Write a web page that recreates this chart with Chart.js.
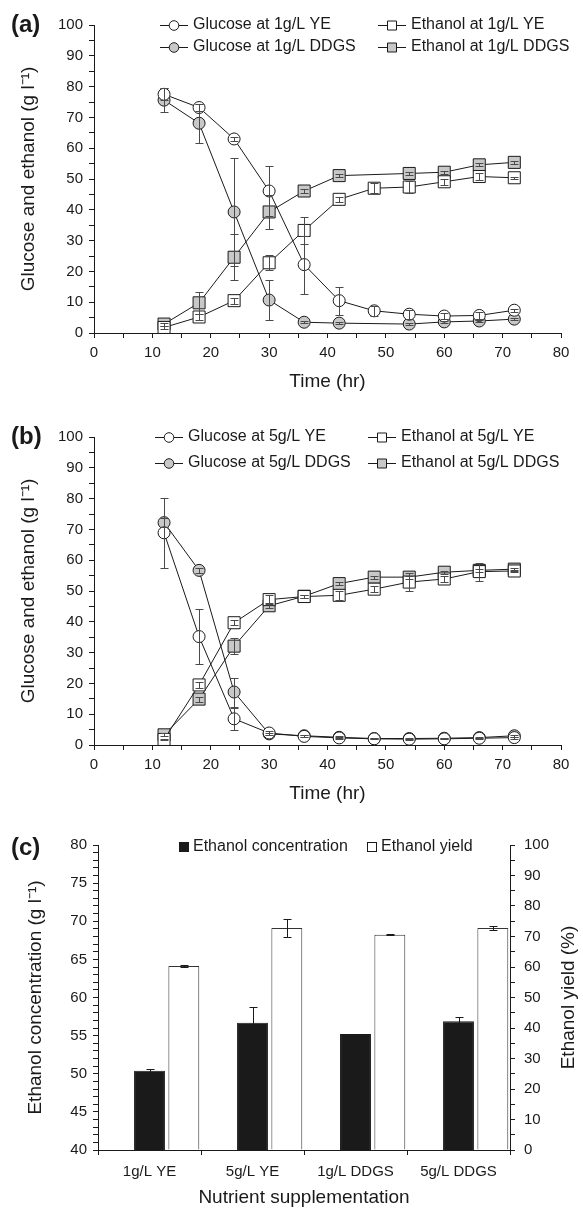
<!DOCTYPE html>
<html>
<head>
<meta charset="utf-8">
<title>Glucose and ethanol time courses</title>
<script src="https://cdn.jsdelivr.net/npm/chart.js@4.4.1/dist/chart.umd.min.js"></script>
<style>
  body { margin: 0; background: #fff; }
  #page { position: relative; width: 583px; height: 1209px; font-family: "Liberation Sans", Arial, sans-serif; color: #1a1a1a; }
  canvas { position: absolute; left: 0; }
  .tag { position: absolute; left: 11px; font-size: 24px; font-weight: bold; line-height: 1; }
</style>
</head>
<body>
<div id="page">
  <canvas id="chart-a" width="583" height="400" style="top:0"></canvas>
  <canvas id="chart-b" width="583" height="400" style="top:412px"></canvas>
  <canvas id="chart-c" width="583" height="389" style="top:820px"></canvas>
  <div class="tag" style="top:12px">(a)</div>
  <div class="tag" style="top:424px">(b)</div>
  <div class="tag" style="top:835px">(c)</div>
</div>
<script>
// sampling times (hr)
const hours = [12, 18, 24, 30, 36, 42, 48, 54, 60, 66, 72];

// (a) 1 g/L supplementation
const glucoseYE1 = [77.5, 73.2, 63.0, 46.1, 22.2, 10.5, 7.2, 6.1, 5.5, 5.7, 7.4];
const glucoseYE1Err = [2.0, 1.0, 0.6, 8.0, 9.4, 4.5, 1.6, 1.5, 1.0, 1.0, 0.5];
const glucoseDDGS1 = [75.6, 68.1, 39.3, 10.7, 3.5, 3.2, null, 2.9, 3.6, 3.9, 4.5];
const glucoseDDGS1Err = [4.0, 6.3, 17.6, 6.4, 0.3, 0.3, null, 0.3, 0.3, 0.4, 0.4];
const ethanolYE1 = [1.8, 5.2, 10.5, 22.8, 33.3, 43.4, 47.0, 47.4, 49.1, 50.8, 50.4];
const ethanolYE1Err = [0.5, 1.0, 1.0, 2.5, 4.4, 0.8, 1.6, 1.8, 1.0, 1.0, 0.4];
const ethanolDDGS1 = [2.9, 9.8, 24.6, 39.3, 46.1, 51.1, null, 51.8, 52.2, 54.6, 55.4];
const ethanolDDGS1Err = [0.5, 3.6, 7.5, 5.4, 0.5, 0.5, null, 0.5, 0.5, 0.5, 0.5];

// (b) 5 g/L supplementation
const glucoseYE5 = [68.9, 35.2, 8.5, 3.9, 2.8, 2.3, 2.0, 1.9, 2.0, 2.2, 2.4];
const glucoseYE5Err = [11.3, 8.8, 3.5, 0.5, 0.3, 0.3, 0.2, 0.2, 0.2, 0.2, 0.3];
const glucoseDDGS5 = [72.2, 56.7, 17.2, 3.6, 3.0, 2.5, 2.1, 2.1, 2.2, 2.4, 3.0];
const glucoseDDGS5Err = [1.5, 0.8, 4.7, 0.4, 0.3, 0.3, 0.2, 0.2, 0.2, 0.2, 0.3];
const ethanolYE5 = [1.8, 19.5, 39.7, 47.2, 48.2, 48.6, 50.6, 52.9, 53.9, 56.3, 56.5];
const ethanolYE5Err = [0.3, 1.0, 0.8, 1.5, 0.5, 1.5, 1.0, 2.8, 1.0, 2.9, 0.3];
const ethanolDDGS5 = [3.3, 14.9, 32.1, 45.2, 48.3, 52.4, 54.5, 54.5, 56.1, 56.7, 57.1];
const ethanolDDGS5Err = [0.5, 0.8, 2.6, 0.8, 0.5, 0.5, 0.5, 0.5, 0.5, 0.5, 0.5];

// (c) end-point comparison
const supplements = ['1g/L YE', '5g/L YE', '1g/L DDGS', '5g/L DDGS'];
const concentration = [50.4, 56.7, 55.2, 56.9];
const concentrationErr = [0.2, 2.0, 0.05, 0.6];
const ethanolYield = [60.3, 72.8, 70.6, 72.8];
const ethanolYieldErr = [0.3, 2.8, 0.1, 0.8];

const FONT = '"Liberation Sans", Arial, sans-serif';
const INK = '#1a1a1a';
const GREY = '#c8c8c8';
const TICK = 15, TITLE = 19, KEY = 16;

Chart.defaults.font.family = FONT;
Chart.defaults.color = INK;

// vertical error bars with caps, drawn over the marks
const errorBars = {
  id: 'errorBars',
  afterDatasetsDraw(chart, args, opts) {
    const ctx = chart.ctx;
    ctx.save();
    ctx.lineWidth = 1;
    chart.data.datasets.forEach((ds, i) => {
      if (!ds.errors) return;
      const meta = chart.getDatasetMeta(i);
      const yScale = chart.scales[meta.yAxisID];
      ctx.strokeStyle = ds.errorColor || opts.color;
      meta.data.forEach((el, j) => {
        const err = ds.errors[j];
        const v = meta.controller.getParsed(j).y;
        if (err == null || !Number.isFinite(v)) return;
        const x = Math.round(el.x) + 0.5;
        const top = Math.round(yScale.getPixelForValue(v + err)) + 0.5;
        const bot = Math.round(yScale.getPixelForValue(v - err)) + 0.5;
        const c = opts.cap;
        ctx.beginPath();
        ctx.moveTo(x, top); ctx.lineTo(x, bot);
        ctx.moveTo(x - c, top); ctx.lineTo(x + c, top);
        ctx.moveTo(x - c, bot); ctx.lineTo(x + c, bot);
        ctx.stroke();
      });
    });
    ctx.restore();
  }
};

// legend placed inside the plot, one slot per dataset
const keyBox = {
  id: 'keyBox',
  afterDraw(chart, args, opts) {
    if (!opts.slots) return;
    const ctx = chart.ctx;
    ctx.save();
    ctx.font = KEY + 'px ' + FONT;
    ctx.textBaseline = 'middle';
    ctx.lineWidth = 1;
    ctx.strokeStyle = INK;
    opts.slots.forEach((slot, i) => {
      if (!slot) return;
      const ds = chart.data.datasets[i];
      const [x, y] = slot;
      if (opts.swatch) {
        ctx.fillStyle = ds.backgroundColor;
        ctx.fillRect(x, y - 5, 10, 10);
        ctx.strokeRect(x + 0.5, y - 4.5, 9, 9);
        ctx.fillStyle = INK;
        ctx.fillText(ds.label, x + 14, y);
        return;
      }
      ctx.beginPath(); ctx.moveTo(x, y + 0.5); ctx.lineTo(x + 28, y + 0.5); ctx.stroke();
      ctx.fillStyle = ds.pointBackgroundColor;
      ctx.beginPath();
      if (ds.pointStyle === 'rect') ctx.rect(x + 9.5, y - 4, 9, 9);
      else ctx.arc(x + 14, y + 0.5, 4.8, 0, Math.PI * 2);
      ctx.fill(); ctx.stroke();
      ctx.fillStyle = INK;
      ctx.fillText(ds.label, x + opts.gap, y);
    });
    ctx.restore();
  }
};

// right-hand axis title reading bottom to top
const sideTitle = {
  id: 'sideTitle',
  afterDraw(chart, args, opts) {
    if (!opts.text) return;
    const { ctx, chartArea } = chart;
    ctx.save();
    ctx.translate(opts.x, (chartArea.top + chartArea.bottom) / 2);
    ctx.rotate(-Math.PI / 2);
    ctx.font = TITLE + 'px ' + FONT;
    ctx.fillStyle = INK;
    ctx.textAlign = 'center';
    ctx.textBaseline = 'middle';
    ctx.fillText(opts.text, 0, 0);
    ctx.restore();
  }
};

function pts(ys) { return hours.map((h, i) => ({ x: h, y: ys[i] })); }

function lineSet(label, ys, errs, shape, fill) {
  return {
    label, data: pts(ys), errors: errs,
    pointStyle: shape, pointRadius: shape === 'rect' ? 8.5 : 6, pointHoverRadius: shape === 'rect' ? 8.5 : 6,
    pointBackgroundColor: fill, pointBorderColor: INK, pointBorderWidth: 1,
    borderColor: INK, borderWidth: 1, backgroundColor: fill, spanGaps: true, fill: false
  };
}

const axisGrid = { drawOnChartArea: false, tickLength: 5, color: INK, lineWidth: 1 };
const axisBorder = { color: INK, width: 1 };

function timeCourse(id, sets, slots) {
  return new Chart(document.getElementById(id), {
    type: 'line',
    data: { datasets: sets },
    plugins: [errorBars, keyBox],
    options: {
      responsive: false, animation: false, devicePixelRatio: 1,
      layout: { padding: { top: 25, right: 22, left: 0, bottom: 0 } },
      plugins: {
        legend: { display: false }, tooltip: { enabled: false },
        errorBars: { color: '#4a4a4a', cap: 4 },
        keyBox: { slots: slots, gap: 33 }
      },
      scales: {
        x: {
          type: 'linear', min: 0, max: 80,
          afterFit: s => { s.height = 67; },
          ticks: { stepSize: 5, autoSkip: false, maxRotation: 0, padding: 6, font: { size: TICK },
                   callback: v => v % 10 === 0 ? v : '' },
          grid: axisGrid, border: axisBorder,
          title: { display: true, text: 'Time (hr)', font: { size: TITLE }, padding: { top: 0, bottom: 7 } }
        },
        y: {
          min: 0, max: 100,
          afterFit: s => { s.width = 94; },
          ticks: { stepSize: 5, autoSkip: false, padding: 6, font: { size: TICK },
                   callback: v => v % 10 === 0 ? v : '' },
          grid: axisGrid, border: axisBorder,
          title: { display: true, text: 'Glucose and ethanol (g l\u207B\u00B9)', font: { size: TITLE }, padding: { top: 17, bottom: 0 } }
        }
      }
    }
  });
}

timeCourse('chart-a', [
  lineSet('Glucose at 1g/L YE', glucoseYE1, glucoseYE1Err, 'circle', '#ffffff'),
  lineSet('Glucose at 1g/L DDGS', glucoseDDGS1, glucoseDDGS1Err, 'circle', GREY),
  lineSet('Ethanol at 1g/L YE', ethanolYE1, ethanolYE1Err, 'rect', '#ffffff'),
  lineSet('Ethanol at 1g/L DDGS', ethanolDDGS1, ethanolDDGS1Err, 'rect', GREY)
], [[160, 25], [160, 47], [378, 25], [378, 47]]);

timeCourse('chart-b', [
  lineSet('Glucose at 5g/L YE', glucoseYE5, glucoseYE5Err, 'circle', '#ffffff'),
  lineSet('Glucose at 5g/L DDGS', glucoseDDGS5, glucoseDDGS5Err, 'circle', GREY),
  lineSet('Ethanol at 5g/L YE', ethanolYE5, ethanolYE5Err, 'rect', '#ffffff'),
  lineSet('Ethanol at 5g/L DDGS', ethanolDDGS5, ethanolDDGS5Err, 'rect', GREY)
], [[155, 25], [155, 51], [368, 25], [368, 51]]);

new Chart(document.getElementById('chart-c'), {
  type: 'bar',
  data: {
    labels: supplements,
    datasets: [
      // empty first slot so each pair sits right of the category centre, as in the original
      { label: '', data: supplements.map(() => null), yAxisID: 'y' },
      { label: 'Ethanol concentration', data: concentration, errors: concentrationErr, yAxisID: 'y',
        backgroundColor: INK, borderColor: INK, borderWidth: 1, errorColor: INK },
      { label: 'Ethanol yield', data: ethanolYield, errors: ethanolYieldErr, yAxisID: 'y2',
        backgroundColor: '#ffffff', borderColor: '#333333', borderWidth: 1, errorColor: INK }
    ]
  },
  plugins: [errorBars, keyBox, sideTitle],
  options: {
    responsive: false, animation: false, devicePixelRatio: 1,
    layout: { padding: { top: 25, right: 0, left: 0, bottom: 0 } },
    datasets: { bar: { categoryPercentage: 1, barPercentage: 0.9 } },
    plugins: {
      legend: { display: false }, tooltip: { enabled: false },
      errorBars: { color: INK, cap: 4 },
      keyBox: { slots: [null, [179, 27], [367, 27]], swatch: true },
      sideTitle: { text: 'Ethanol yield (%)', x: 569 }
    },
    scales: {
      x: {
        afterFit: s => { s.height = 59; },
        ticks: { padding: 8, font: { size: TICK }, maxRotation: 0 },
        grid: Object.assign({}, axisGrid, { offset: true }), border: axisBorder,
        title: { display: true, text: 'Nutrient supplementation', font: { size: TITLE }, padding: { top: 0, bottom: 0 } }
      },
      y: {
        position: 'left', min: 40, max: 80,
        afterFit: s => { s.width = 98; },
        ticks: { stepSize: 1, autoSkip: false, padding: 6, font: { size: TICK },
                 callback: v => v % 5 === 0 ? v : '' },
        grid: axisGrid, border: axisBorder,
        title: { display: true, text: 'Ethanol concentration (g l\u207B\u00B9)', font: { size: TITLE }, padding: { top: 24, bottom: 0 } }
      },
      y2: {
        position: 'right', min: 0, max: 100,
        afterFit: s => { s.width = 73; },
        ticks: { stepSize: 5, autoSkip: false, padding: 9, font: { size: TICK },
                 callback: v => v % 10 === 0 ? v : '' },
        grid: axisGrid, border: axisBorder
      }
    }
  }
});
</script>
</body>
</html>
